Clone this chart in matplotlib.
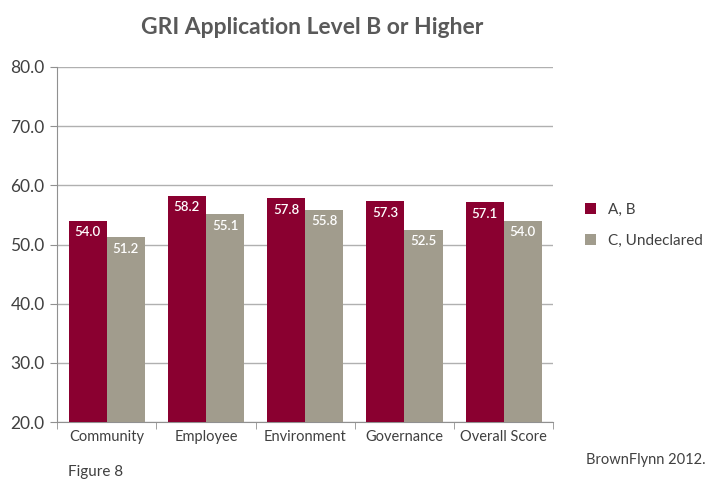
import numpy as np
import matplotlib
matplotlib.use('Agg')
import matplotlib.pyplot as plt

plt.rcParams['font.family'] = ['Lato', 'DejaVu Sans']

categories = ['Community', 'Employee', 'Environment', 'Governance', 'Overall Score']
ab_values = [54.0, 58.2, 57.8, 57.3, 57.1]
c_values = [51.2, 55.1, 55.8, 52.5, 54.0]
series_names = ['A, B', 'C, Undeclared']

RED = '#8a0030'
GREY = '#a19c8d'
TEXT = '#404040'

fig = plt.figure(figsize=(7.14, 4.92), dpi=100)
ax = fig.add_axes([0.080, 0.142, 0.695, 0.722])

x = np.arange(len(categories))
w = 0.385
b1 = ax.bar(x - w / 2, [v - 20 for v in ab_values], w, bottom=20, color=RED, label=series_names[0], zorder=3)
b2 = ax.bar(x + w / 2, [v - 20 for v in c_values], w, bottom=20, color=GREY, label=series_names[1], zorder=3)

# value labels inside the top of each bar
for bars, vals in ((b1, ab_values), (b2, c_values)):
    for rect, v in zip(bars, vals):
        ax.text(rect.get_x() + rect.get_width() / 2, v - 1.9, f'{v:.1f}',
                ha='center', va='center', color='white', fontsize=9.5,
                fontweight='semibold', zorder=4)

ax.set_xlim(-0.5, len(categories) - 0.5)
ax.set_ylim(20, 80)
ax.set_yticks(np.arange(20, 81, 10))
ax.set_yticklabels([f'{t:.1f}' for t in np.arange(20, 81, 10)], fontsize=12.5, color=TEXT)
ax.yaxis.grid(True, color='#b0b0b0', linewidth=1, zorder=0)
ax.set_xticks(x)
ax.set_xticklabels(categories, fontsize=10.5, color=TEXT)
ax.tick_params(axis='x', length=0, pad=6)
ax.set_xticks(np.arange(-0.5, len(categories)), minor=True)
ax.tick_params(axis='x', which='minor', length=5, color='#909090')
ax.tick_params(axis='y', length=5, color='#909090', pad=4)
for s in ('top', 'right'):
    ax.spines[s].set_visible(False)
ax.spines['left'].set_color('#909090')
ax.spines['bottom'].set_color('#909090')

fig.text(0.437, 0.945, 'GRI Application Level B or Higher', ha='center', va='center',
         fontsize=16.5, fontweight='bold', color='#595959')

fig.legend(handles=[b1, b2], loc='upper left', bbox_to_anchor=(0.800, 0.615),
           frameon=False, fontsize=11, handlelength=0.7, handleheight=0.7,
           labelspacing=1.1, handletextpad=0.8, labelcolor=TEXT)

fig.text(0.095, 0.040, 'Figure 8', fontsize=11, color=TEXT, ha='left', va='center')
fig.text(0.988, 0.065, 'BrownFlynn 2012.', fontsize=10.5, color=TEXT, ha='right', va='center')

fig.savefig('out.png', dpi=100)
